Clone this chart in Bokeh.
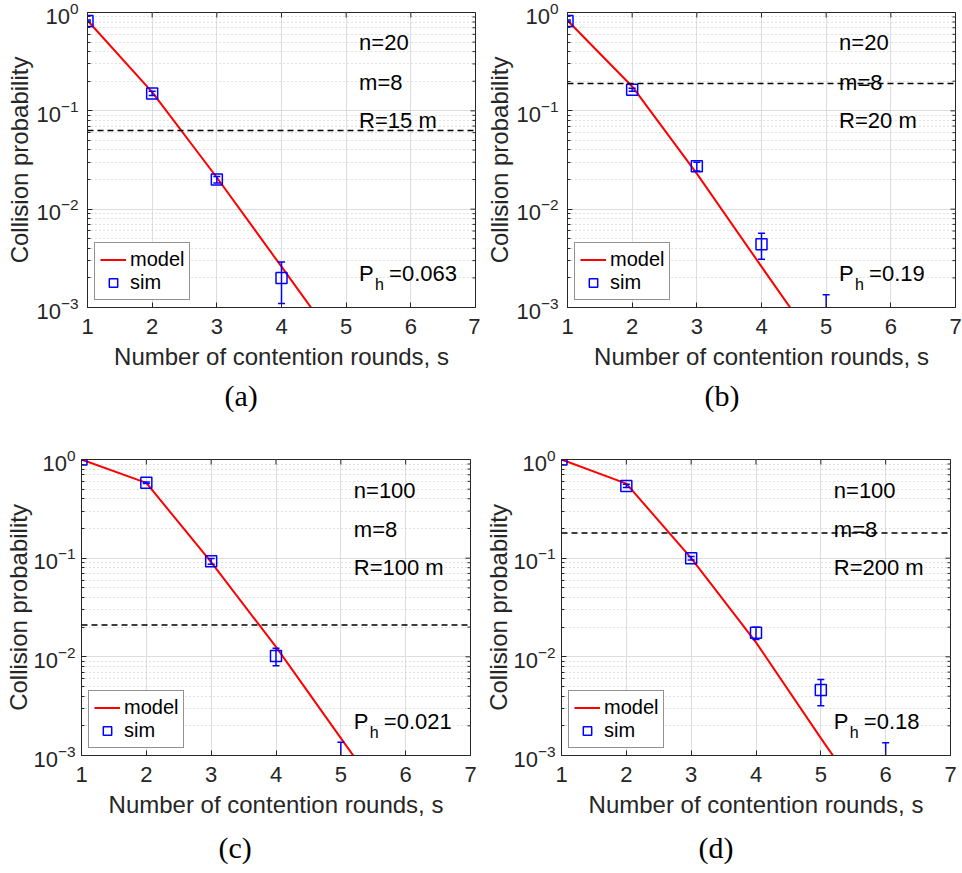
import math
from bokeh.plotting import figure
from bokeh.models import (FixedTicker, Span, Label, Legend, LegendItem, Title, Range1d)
from bokeh.layouts import column, row
from bokeh.embed import file_html
from bokeh.resources import INLINE

FONT = "Liberation Sans"
SERIF = "Liberation Serif"
BLUE = "#0000ff"
RED = "#ff0000"
AX = "#262626"

s_model = [1, 2, 3, 4, 5, 6, 7]

# panel (a)
model_a = [0.83, 0.155, 0.021, 0.0026, 3.2e-4, 4.0e-5, 5.0e-6]
s_sim_a = [1, 2, 3, 4]
sim_a = [0.82, 0.15, 0.020, 0.0020]
lo_a = [0.80, 0.143, 0.0185, 0.0011]
hi_a = [0.84, 0.158, 0.0215, 0.0029]

# panel (b)
model_b = [0.83, 0.177, 0.023, 0.0026, 3.0e-4, 3.5e-5, 4.0e-6]
s_sim_b = [1, 2, 3, 4, 5]
sim_b = [0.82, 0.164, 0.0273, 0.0044, 0.0007]
lo_b = [0.80, 0.158, 0.0245, 0.0031, 0.0002]
hi_b = [0.84, 0.170, 0.030, 0.0057, 0.00135]

# panel (c)
model_c = [1.0, 0.58, 0.091, 0.0126, 0.0015, 1.8e-4, 2.0e-5]
s_sim_c = [1, 2, 3, 4, 5]
sim_c = [1.0, 0.58, 0.093, 0.0102, 0.0007]
lo_c = [0.99, 0.57, 0.087, 0.0081, 0.0002]
hi_c = [1.0, 0.59, 0.099, 0.0122, 0.00136]

# panel (d)
model_d = [1.0, 0.57, 0.10, 0.014, 0.0015, 1.7e-4, 2.0e-5]
s_sim_d = [1, 2, 3, 4, 5, 6]
sim_d = [1.0, 0.54, 0.10, 0.0175, 0.0046, 0.0007]
lo_d = [0.99, 0.52, 0.096, 0.015, 0.0032, 0.0002]
hi_d = [1.0, 0.56, 0.104, 0.020, 0.0059, 0.00135]

n_vals = [20, 20, 100, 100]
m_vals = [8, 8, 8, 8]
R_vals = [15, 20, 100, 200]
Ph_vals = ["0.063", "0.19", "0.021", "0.18"]
captions = ["(a)", "(b)", "(c)", "(d)"]

x_lim = (1, 7)
y_lim = (1e-3, 1.0)
x_ticks = [1, 2, 3, 4, 5, 6, 7]
y_ticks = [1e-3, 1e-2, 1e-1, 1.0]
y_minor = [k * 10.0 ** e for e in (-3, -2, -1) for k in range(2, 10)]


def make_panel(i, model, s_sim, sim, lo, hi, width, height, bl, br, bt, bb,
               cap_standoff, cap_offset, ylab_standoff, ytick_standoff):
    p = figure(width=width, height=height, x_range=Range1d(*x_lim), y_range=Range1d(*y_lim),
               y_axis_type="log", output_backend="svg", toolbar_location=None,
               min_border_left=bl, min_border_right=br, min_border_top=bt, min_border_bottom=bb,
               background_fill_color="white", border_fill_color="white")
    p.outline_line_color = AX
    p.outline_line_width = 1

    p.xaxis.ticker = FixedTicker(ticks=x_ticks, minor_ticks=[])
    p.yaxis.ticker = FixedTicker(ticks=y_ticks, minor_ticks=y_minor)
    for ax in (p.xaxis[0], p.yaxis[0]):
        ax.axis_line_color = AX
        ax.major_tick_line_color = AX
        ax.minor_tick_line_color = AX
        ax.major_tick_in = 5
        ax.major_tick_out = 0
        ax.minor_tick_in = 3
        ax.minor_tick_out = 0
        ax.major_label_text_font = FONT
        ax.major_label_text_font_size = "22px"
        ax.major_label_text_color = AX
        ax.axis_label_text_font = FONT
        ax.axis_label_text_font_size = "24px"
        ax.axis_label_text_font_style = "normal"
        ax.axis_label_text_color = AX
    p.xaxis.axis_label = "Number of contention rounds, s"
    p.yaxis.axis_label = "Collision probability"
    p.xaxis.major_label_standoff = 11
    p.xaxis.axis_label_standoff = 6
    p.yaxis.major_label_standoff = ytick_standoff
    p.yaxis.axis_label_standoff = ylab_standoff

    p.xgrid.grid_line_color = "#dedede"
    p.ygrid.grid_line_color = "#dedede"
    p.ygrid.minor_grid_line_color = "#c4c4c4"
    p.ygrid.minor_grid_line_dash = "1 3"

    # mirrored inward ticks on the top and right edges (half outside is clipped by the frame)
    p.scatter(x=x_ticks, y=[y_lim[1]] * len(x_ticks), marker="dash", angle=math.pi / 2,
              size=10, line_color=AX, line_width=1)
    p.scatter(x=[x_lim[1]] * len(y_ticks), y=y_ticks, marker="dash", size=10,
              line_color=AX, line_width=1)
    p.scatter(x=[x_lim[1]] * len(y_minor), y=y_minor, marker="dash", size=6,
              line_color=AX, line_width=1)

    for txt, yv in ((f"n={n_vals[i]}", 0.49), (f"m={m_vals[i]}", 0.195), (f"R={R_vals[i]} m", 0.08)):
        p.add_layout(Label(x=5.2, y=yv, text=txt, text_baseline="middle", text_align="left",
                           text_font=FONT, text_font_size="22px", text_color="black"))
    p.add_layout(Label(x=5.2, y=0.0022, text="P", text_baseline="middle", text_align="left",
                       text_font=FONT, text_font_size="22px", text_color="black"))
    p.add_layout(Label(x=5.2, y=0.0022, x_offset=16, y_offset=-11, text="h", text_baseline="middle",
                       text_align="left", text_font=FONT, text_font_size="16px", text_color="black"))
    p.add_layout(Label(x=5.2, y=0.0022, x_offset=30, text="=" + Ph_vals[i], text_baseline="middle",
                       text_align="left", text_font=FONT, text_font_size="22px", text_color="black"))

    p.add_layout(Span(location=float(Ph_vals[i]), dimension="width", line_color="black",
                      line_dash="6 4", line_width=1.5))

    line_r = p.line(s_model, model, line_color=RED, line_width=2)

    p.segment(x0=s_sim, y0=lo, x1=s_sim, y1=hi, line_color=BLUE, line_width=1.5)
    p.scatter(x=s_sim, y=hi, marker="dash", size=7, line_color=BLUE, line_width=1.5)
    p.scatter(x=s_sim, y=lo, marker="dash", size=7, line_color=BLUE, line_width=1.5)
    sq_r = p.scatter(x=s_sim, y=sim, marker="square", size=11, line_color=BLUE,
                     fill_color=None, line_width=1.5)

    legend = Legend(items=[LegendItem(label="model", renderers=[line_r]),
                           LegendItem(label="sim", renderers=[sq_r])],
                    location=(7, 7), border_line_color=AX, border_line_width=1,
                    background_fill_color="white", background_fill_alpha=1.0,
                    label_text_font=FONT, label_text_font_size="20px", label_text_color="black",
                    padding=5, spacing=0, margin=0, glyph_width=26, glyph_height=21,
                    label_height=21, label_standoff=4)
    p.add_layout(legend)

    t = Title(text=captions[i], align="left", offset=cap_offset, standoff=cap_standoff,
              text_font=SERIF, text_font_size="30px", text_font_style="normal", text_color="black")
    p.add_layout(t, "below")
    return p


pa = make_panel(0, model_a, s_sim_a, sim_a, lo_a, hi_a, 480, 440, 87, 5, 12, 133, 8, 137, 0, 9)
pb = make_panel(1, model_b, s_sim_b, sim_b, lo_b, hi_b, 482, 440, 87, 7, 12, 133, 8, 137, 0, 9)
pc = make_panel(2, model_c, s_sim_c, sim_c, lo_c, hi_c, 480, 433, 81, 10, 19, 118, 17, 137, -2, 6)
pd = make_panel(3, model_d, s_sim_d, sim_d, lo_d, hi_d, 482, 433, 81, 12, 19, 118, 17, 137, -2, 6)

layout = column(row(pa, pb), row(pc, pd))
open("out.html", "w").write(file_html(layout, INLINE))
